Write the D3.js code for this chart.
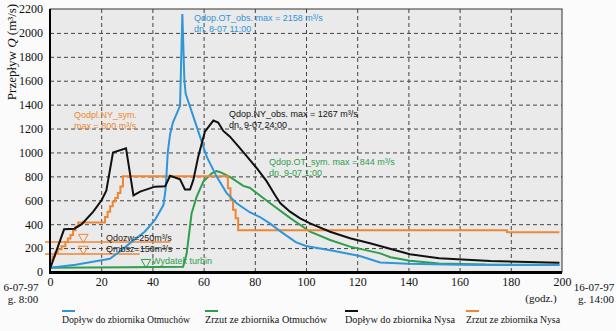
<!DOCTYPE html>
<html>
<head>
<meta charset="utf-8">
<script src="https://cdn.jsdelivr.net/npm/d3@7"></script>
<style>
  body { margin: 0; background: #fbfbfb; }
  svg { display: block; }
</style>
</head>
<body>
<svg id="chart" width="616" height="331"></svg>
<script>
// hydrographs, hours from 6-07-97 8:00, [hour, Q m3/s]
const inflowOtmuchow = [
  [0, 35], [10, 60], [23.4, 110], [28, 184], [32, 254], [37, 337], [41, 435],
  [44.3, 560], [45.2, 700], [46, 1000], [46.9, 1150], [48, 1250], [50.8, 1390],
  [51.7, 2158], [52.5, 1600], [53, 1490], [56, 1300], [58.6, 1132], [61.2, 965],
  [65.1, 798], [69, 660], [72.9, 575], [78, 500], [82, 460], [86, 405], [90, 340],
  [96, 250], [100, 218], [110, 180], [121, 134], [129, 80], [140, 68], [160, 60], [199, 58]
];
const outflowOtmuchow = [
  [0, 35], [30, 40], [52, 44], [53.4, 156], [55.3, 490], [57.3, 630], [59.9, 756],
  [63.2, 826], [65, 844], [66.5, 835], [70.3, 795], [75.5, 720], [78, 705], [82, 640],
  [86, 575], [94, 449], [101.6, 337], [109.4, 268], [117.2, 212], [129, 156],
  [133, 123], [140.6, 95], [152, 72], [170, 62], [199, 60]
];
const inflowNysa = [
  [0, 25], [5.5, 357], [9.5, 362], [12.4, 400], [16.9, 505], [20.2, 602], [22, 680],
  [24.6, 1000], [29.7, 1035], [32.6, 640], [35.2, 672], [41, 714], [45, 718],
  [46.9, 805], [50.8, 775], [52.7, 690], [54.7, 690], [56, 770], [57.9, 965],
  [60.5, 1174], [63.8, 1267], [65.7, 1250], [67.7, 1180], [70.3, 1132], [74, 1040],
  [77, 965], [80.7, 870], [84.6, 760], [88, 640], [90, 575], [93.75, 505],
  [97.7, 449], [101.6, 407], [109.4, 337], [117.2, 282], [125, 240], [132.8, 195],
  [140.6, 148], [152, 115], [172, 92], [199, 78]
];
const outflowNysa = [
  [0, 100], [1, 130], [2, 160], [3, 190], [4.5, 215], [6, 250], [7, 280], [8, 310],
  [9, 350], [10, 380], [11, 415], [21.5, 460], [22.5, 505], [23.5, 550], [24.5, 590],
  [25.5, 620], [26.5, 660], [27.5, 715], [28.5, 800], [68.5, 800], [69.5, 700],
  [70.5, 600], [71.5, 520], [72.5, 450], [73.5, 350], [178.5, 332], [199, 332]
];

// threshold levels drawn as short horizontal lines
const levels = [
  { name: "Qdozw", q: 250, to: 47 },
  { name: "Qmbsz", q: 150, to: 35 }
];

const xTicks = [0, 20, 40, 60, 80, 100, 120, 140, 160, 180, 200];
const yTicks = [0, 200, 400, 600, 800, 1000, 1200, 1400, 1600, 1800, 2000, 2200];

const legendNames = [
  "Dopływ do zbiornika Otmuchów",
  "Zrzut ze zbiornika Otmuchów",
  "Dopływ do zbiornika Nysa",
  "Zrzut ze zbiornika Nysa"
];

const blue = "#2f96d8", green = "#2f9e4c", black = "#111", orange = "#ef8633";
const serif = "Liberation Serif, Times New Roman, serif";
const sans = "Liberation Sans, Arial, sans-serif";

var svg = d3.select("#chart");
var padding = { t: 9, r: 54, b: 59, l: 50 };
var width = 616 - padding.l - padding.r;
var height = 331 - padding.t - padding.b;

var x = d3.scaleLinear().domain([0, 200]).range([padding.l, padding.l + width]);
var y = d3.scaleLinear().domain([0, 2200]).range([padding.t + height, padding.t]);

// plot background
svg.append("rect")
  .attr("x", x(0)).attr("y", y(2200))
  .attr("width", width).attr("height", height)
  .attr("fill", "#eaeaea");

// dashed grid
svg.append("g")
  .attr("transform", `translate(0, ${padding.t + height})`)
  .call(d3.axisBottom(x).tickValues(xTicks.slice(1, -1)).tickSize(-height).tickFormat(""))
  .call(g => g.select(".domain").remove())
  .selectAll("line")
  .attr("stroke", "#444").attr("stroke-dasharray", "4,3");

svg.append("g")
  .attr("transform", `translate(${padding.l}, 0)`)
  .call(d3.axisLeft(y).tickValues(yTicks.slice(1, -1)).tickSize(-width).tickFormat(""))
  .call(g => g.select(".domain").remove())
  .selectAll("line")
  .attr("stroke", "#444").attr("stroke-dasharray", "4,3");

// frame
svg.append("rect")
  .attr("x", x(0)).attr("y", y(2200))
  .attr("width", width).attr("height", height)
  .attr("fill", "none").attr("stroke", "#333").attr("stroke-width", 1);

// tick labels
var yAxis = svg.append("g")
  .attr("transform", `translate(${padding.l - 2}, 0)`)
  .call(d3.axisLeft(y).tickValues(yTicks).tickSize(0).tickPadding(5).tickFormat(d3.format("d")))
  .attr("font-family", serif).attr("font-size", 12);
yAxis.select(".domain").remove();
yAxis.selectAll("text").attr("fill", "#111");

var xAxis = svg.append("g")
  .attr("transform", `translate(0, ${padding.t + height + 2})`)
  .call(d3.axisBottom(x).tickValues(xTicks).tickSize(0).tickPadding(3).tickFormat(d3.format("d")))
  .attr("font-family", serif).attr("font-size", 12);
xAxis.select(".domain").remove();
xAxis.selectAll("text").attr("fill", "#111");

// threshold lines
svg.append("g").selectAll("line")
  .data(levels)
  .join("line")
  .attr("x1", x(0) - 5).attr("x2", d => x(d.to))
  .attr("y1", d => y(d.q)).attr("y2", d => y(d.q))
  .attr("stroke", orange).attr("stroke-width", 1.5);

// series
var line = d3.line().x(d => x(d[0])).y(d => y(d[1]));
var stepLine = d3.line().x(d => x(d[0])).y(d => y(d[1])).curve(d3.curveStepAfter);

svg.append("path").datum(outflowOtmuchow)
  .attr("d", line).attr("fill", "none").attr("stroke", green).attr("stroke-width", 2);
svg.append("path").datum(outflowNysa)
  .attr("d", stepLine).attr("fill", "none").attr("stroke", orange).attr("stroke-width", 2);
svg.append("path").datum(inflowOtmuchow)
  .attr("d", line).attr("fill", "none").attr("stroke", blue).attr("stroke-width", 2);
svg.append("path").datum(inflowNysa)
  .attr("d", line).attr("fill", "none").attr("stroke", black).attr("stroke-width", 2);

// axis lines on top
svg.append("line")
  .attr("x1", x(0)).attr("x2", x(0)).attr("y1", y(2200)).attr("y2", y(0))
  .attr("stroke", "#000").attr("stroke-width", 2);
svg.append("line")
  .attr("x1", x(0) - 1).attr("x2", x(200)).attr("y1", y(0) + 0.5).attr("y2", y(0) + 0.5)
  .attr("stroke", "#000").attr("stroke-width", 3);

// water level markers
var tri = d3.symbol().type(d3.symbolTriangle).size(40);
function marker(t, q, color) {
  svg.append("path")
    .attr("d", tri)
    .attr("transform", `translate(${x(t)}, ${y(q) - 5}) rotate(180)`)
    .attr("fill", "none").attr("stroke", color).attr("stroke-width", 1);
}
levels.forEach(d => marker(13, d.q, orange));
marker(37.5, outflowOtmuchow[1][1], green);

// annotations
function note(px, py, lines, color) {
  var t = svg.append("text")
    .attr("x", px).attr("y", py)
    .attr("fill", color)
    .style("font-family", sans).style("font-size", "9px");
  lines.forEach((s, i) => {
    t.append("tspan").attr("x", px).attr("dy", i ? 10.5 : 0).text(s);
  });
}
note(194, 21, ["Qdop.OT_obs. max = 2158 m³/s", "dn. 8-07 11:00"], blue);
note(229, 117, ["Qdop.NY_obs. max = 1267 m³/s", "dn. 9-07 24:00"], black);
note(269, 165, ["Qdop.OT_sym. max = 844 m³/s", "dn. 9-07 1:00"], green);
note(74, 118, ["Qodpl.NY_sym.", "max = 800 m³/s"], orange);
note(106, 241, ["Qdozw=250m³/s", "Qmbsz=150m³/s"], "#222");
note(152, 264, ["Wydatek turbin"], green);

// axis title
svg.append("text")
  .attr("transform", "translate(16, 52) rotate(-90)")
  .attr("text-anchor", "middle")
  .attr("fill", "#111")
  .style("font-family", serif).style("font-size", "13px")
  .call(t => {
    t.append("tspan").text("Przepływ ");
    t.append("tspan").style("font-style", "italic").text("Q");
    t.append("tspan").text(" (m³/s)");
  });

// date captions
function caption(px, py, s, anchor) {
  svg.append("text")
    .attr("x", px).attr("y", py).attr("text-anchor", anchor || "middle")
    .attr("fill", "#111")
    .style("font-family", serif).style("font-size", "11px")
    .text(s);
}
caption(21, 291, "6-07-97");
caption(23, 303, "g. 8:00");
caption(594, 291, "16-07-97");
caption(596, 303, "g. 14:00");
caption(541, 302, "(godz.)");

// legend
var legendX = [62, 205, 345, 466];
var legendW = [128, 122, 110, 94];
var legendC = [blue, green, black, orange];
var lg = svg.append("g").selectAll("g")
  .data(legendNames)
  .join("g")
  .attr("transform", (d, i) => `translate(${legendX[i]}, 0)`);
lg.append("line")
  .attr("x1", 0).attr("x2", 13).attr("y1", 311).attr("y2", 311)
  .attr("stroke", (d, i) => legendC[i]).attr("stroke-width", 2);
lg.append("text")
  .attr("x", 0).attr("y", 323)
  .attr("textLength", (d, i) => legendW[i])
  .attr("lengthAdjust", "spacingAndGlyphs")
  .attr("fill", "#111")
  .style("font-family", serif).style("font-size", "10.5px")
  .text(d => d);
</script>
</body>
</html>
